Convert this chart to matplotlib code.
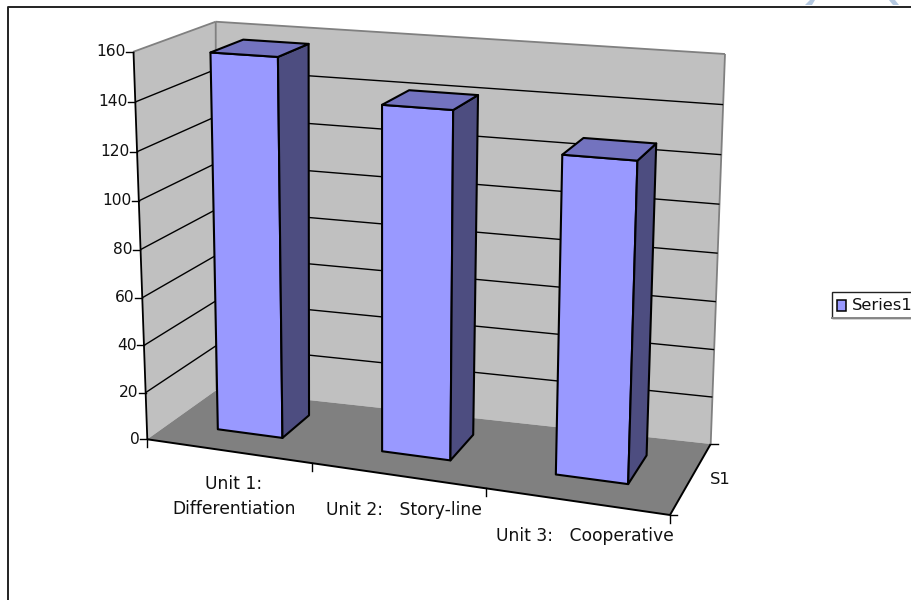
import numpy as np
import matplotlib
matplotlib.use("Agg")
import matplotlib.pyplot as plt
from matplotlib.patches import Polygon, Rectangle

plt.rcParams["font.family"] = ["DejaVu Sans"]

# ── Data ──────────────────────────────────────────────────────────────────────
categories = ["Unit 1:\nDifferentiation", "Unit 2:   Story-line", "Unit 3:   Cooperative"]
values = [157, 141, 127]
series_name = "Series1"
depth_label = "S1"
y_ticks = [0, 20, 40, 60, 80, 100, 120, 140, 160]
y_max = 160

# ── Fake 3D: fit one perspective matrix to the box corners (c, v, d -> pixel) ──
anchors = [
    (0, 0, 0, 147.3, 439.3, 4), (1, 0, 0, 670, 515, 4), (0, 0, 1, 216.5, 390, 4), (1, 0, 1, 710.7, 444, 4),
    (0, 1, 0, 133.5, 51.7, 4), (0, 1, 1, 215.7, 21.7, 4), (1, 1, 1, 725, 54, 4),
    (1/3, 0, 0, 310.7, 462.7, 1), (2/3, 0, 0, 484, 488, 1),
    (0, .5, 0, 141, 249, 1), (1, .75, 1, 721, 156, 1),
]
A, b = [], []
for c, v, d, x, y, w in anchors:
    A.append([w*c, w*v, w*d, w, 0, 0, 0, 0, -w*x*c, -w*x*v, -w*x*d]); b.append(w*x)
    A.append([0, 0, 0, 0, w*c, w*v, w*d, w, -w*y*c, -w*y*v, -w*y*d]); b.append(w*y)
P = np.append(np.linalg.lstsq(np.array(A, float), np.array(b, float), rcond=None)[0], 1).reshape(3, 4)


def persp(c, v, d):
    w = P @ np.array([c, v, d, 1.0])
    return w[:2] / w[2]


# what the fit misses at the known corners gets blended back in
corner_err = {a[:3]: np.array(a[3:5]) - persp(*a[:3]) for a in anchors[:7]}


def proj(c, val, d):
    v = val / y_max
    xy = persp(c, v, d)
    for (cc, vv, dd), err in corner_err.items():
        xy = xy + err * (c if cc else 1 - c) * (v if vv else 1 - v) * (d if dd else 1 - d)
    return xy[0], xy[1]


def face(ax, corners, color, edge="black", lw=1.5, z=2):
    ax.add_patch(Polygon([proj(*p) for p in corners], closed=True, facecolor=color,
                         edgecolor=edge, linewidth=lw, joinstyle="round", zorder=z))


def line(ax, p0, p1, color="black", lw=1.1, z=3):
    x0, y0 = proj(*p0)
    x1, y1 = proj(*p1)
    ax.plot([x0, x1], [y0, y1], color=color, linewidth=lw, zorder=z, solid_capstyle="butt")


fig = plt.figure(figsize=(9.12, 6), dpi=100)
ax = fig.add_axes([0, 0, 1, 1])
ax.set_xlim(0, 912)
ax.set_ylim(600, 0)
ax.axis("off")

# outer chart frame (right and bottom run off the image)
ax.plot([8.5, 8.5, 912], [600, 6.5, 6.5], color="#222222", linewidth=1.4, zorder=1)

# walls and floor
face(ax, [(0, 0, 0), (0, y_max, 0), (0, y_max, 1), (0, 0, 1)], "#C0C0C0", edge="none", z=1)
face(ax, [(0, 0, 1), (0, y_max, 1), (1, y_max, 1), (1, 0, 1)], "#C0C0C0", edge="none", z=1)
face(ax, [(0, 0, 0), (1, 0, 0), (1, 0, 1), (0, 0, 1)], "#808080", edge="none", z=1)
for p0, p1 in [((0, y_max, 0), (0, y_max, 1)), ((0, y_max, 1), (1, y_max, 1)),
               ((0, y_max, 1), (0, 0, 1)), ((1, y_max, 1), (1, 0, 1))]:
    line(ax, p0, p1, color="#808080", lw=1.3, z=1.5)

# gridlines
for t in y_ticks[1:-1]:
    line(ax, (0, t, 0), (0, t, 1), lw=1.0, z=1.6)
    line(ax, (0, t, 1), (1, t, 1), lw=1.0, z=1.6)

# bars
n = len(values)
bar_w = 0.4 / n
d0, d1 = 0.315, 0.735
for i, val in enumerate(values):
    c0 = (i + 0.5) / n - bar_w / 2
    c1 = c0 + bar_w
    z = 2 + i * 0.1
    face(ax, [(c0, 0, d0), (c1, 0, d0), (c1, val, d0), (c0, val, d0)], "#9999FF", z=z)
    face(ax, [(c1, 0, d0), (c1, 0, d1), (c1, val, d1), (c1, val, d0)], "#4D4D80", z=z)
    face(ax, [(c0, val, d0), (c1, val, d0), (c1, val, d1), (c0, val, d1)], "#7373BF", z=z)

# axes
line(ax, (0, 0, 0), (0, y_max, 0), lw=1.3, z=3)
line(ax, (0, 0, 0), (1, 0, 0), lw=1.4, z=3)
line(ax, (1, 0, 0), (1, 0, 1), lw=1.4, z=3)

for t in y_ticks:
    x, y = proj(0, t, 0)
    ax.plot([x - 7, x], [y, y], color="black", linewidth=1.0, zorder=3)
    ax.text(x - 7.5, y, str(t), ha="right", va="center", fontsize=11.2, color="#111111")

for i in range(n + 1):
    x, y = proj(i / n, 0, 0)
    ax.plot([x, x], [y, y + 8], color="black", linewidth=1.0, zorder=3)
for d in [0, 1]:
    x, y = proj(1, 0, d)
    ax.plot([x, x + 7], [y, y], color="black", linewidth=1.0, zorder=3)

# category labels hang under the front edge
label_pos = [(234, 496.5), (403.5, 510), (584.5, 536)]
for lab, (x, y) in zip(categories, label_pos):
    ax.text(x, y, lab, ha="center", va="center", fontsize=12.3, color="#111111", linespacing=1.45)
ax.text(720, 479, depth_label, ha="center", va="center", fontsize=11.7, color="#111111")

# legend, cut by the right edge of the image
ax.add_patch(Rectangle((832, 292), 90, 25.5, facecolor="white", edgecolor="#222222", linewidth=1.0, zorder=3))
ax.plot([832, 912], [318, 318], color="#888888", linewidth=1.4, zorder=3)
ax.add_patch(Rectangle((837.5, 299.5), 9, 11, facecolor="#9999FF", edgecolor="black", linewidth=1.1, zorder=4))
ax.text(852, 305, series_name, ha="left", va="center", fontsize=11.8, color="#111111", clip_on=True)

# faint blue marks poking in above the frame
for pts in [[(805, 5), (810, 0), (815, 0), (812, 5)], [(889, 0), (895, 0), (899, 5), (893, 5)]]:
    ax.add_patch(Polygon(pts, closed=True, facecolor="#B4C8E0", edgecolor="none", zorder=1))

fig.savefig("out.png", dpi=100)
